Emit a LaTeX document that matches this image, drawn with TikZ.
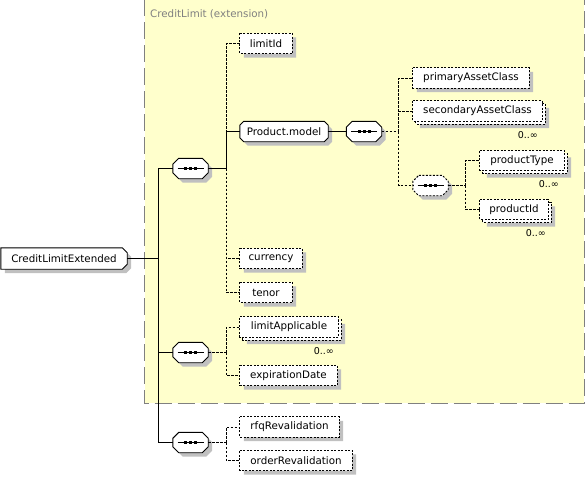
\documentclass[tikz,border=0pt]{standalone}
\usepackage{fontspec}
\setmainfont{DejaVu Sans}
\usetikzlibrary{calc}
\definecolor{extbg}{HTML}{FFFFCC}
\definecolor{extbd}{HTML}{808080}
\definecolor{shd}{HTML}{C0C0C0}
\pgfdeclarelayer{back}
\pgfdeclarelayer{bg}
\pgfsetlayers{back,bg,main}
\tikzset{
  x=1pt,y=-1pt,
  every node/.style={font=\fontsize{10.3}{12}\selectfont,inner sep=0pt},
  elem/.style={minimum height=20pt},
  comp/.style={minimum width=35pt,minimum height=20pt},
  card/.style={anchor=east,font=\fontsize{9.5}{11}\selectfont},
  lbl/.style={anchor=west,text=extbd},
  conn/.style={line width=0.9pt},
  oconn/.style={line width=0.9pt,dash pattern=on 2.5pt off 1.5pt},
  outl/.style={draw=black,fill=white,line width=0.9pt},
  optl/.style={dash pattern=on 2pt off 1.5pt},
  shadowfill/.style={fill=shd},
}
% #1 name, #2 left chamfer, #3 right chamfer, #4 offset
\newcommand\boxpath[4]{%
 ([shift={(#2+#4,#4)}]#1.north west) -- ([shift={(-#3+#4,#4)}]#1.north east) --
 ([shift={(#4,#3+#4)}]#1.north east) -- ([shift={(#4,-#3+#4)}]#1.south east) --
 ([shift={(-#3+#4,#4)}]#1.south east) -- ([shift={(#2+#4,#4)}]#1.south west) --
 ([shift={(#4,-#2+#4)}]#1.south west) -- ([shift={(#4,#2+#4)}]#1.north west) -- cycle}
% single box: name, cl, cr, extra style
\newcommand\solobox[4]{%
 \begin{pgfonlayer}{bg}
 \fill[shadowfill] \boxpath{#1}{#2}{#3}{4};
 \draw[outl,#4] \boxpath{#1}{#2}{#3}{0};
 \end{pgfonlayer}}
% multiple box
\newcommand\multibox[4]{%
 \begin{pgfonlayer}{bg}
 \fill[shadowfill] \boxpath{#1}{#2}{#3}{7};
 \draw[outl,#4] \boxpath{#1}{#2}{#3}{3};
 \draw[outl,#4] \boxpath{#1}{#2}{#3}{0};
 \end{pgfonlayer}}
\newcommand\seqmark[1]{%
  \draw[line width=0.9pt] ([xshift=-13pt]#1.center) -- ([xshift=13pt]#1.center);
  \foreach \dx in {-5,0,5} \fill ([xshift=\dx pt]#1.center) +(-1.5,-1.5) rectangle +(1.5,1.5);}
\begin{document}
\begin{tikzpicture}
\useasboundingbox (0,0) rectangle (585,477);
% extension frame
\begin{pgfonlayer}{back}
\draw[fill=extbg,draw=extbd,line width=1pt,dash pattern=on 17pt off 6pt] (144.5,-1) rectangle (584,403);
\end{pgfonlayer}
\node[lbl] (extlbl) at (150,14) {CreditLimit (extension)};
% nodes
\node[elem,minimum width=126pt,minimum height=21pt] (cle) at (64,258.5) {CreditLimitExtended};
\node[comp] (s1) at (190.5,168.5) {};
\node[comp] (s4) at (190.5,352.5) {};
\node[comp] (s5) at (190.5,442.5) {};
\node[elem,minimum width=52pt] (limitId) at (266,43.5) {limitId};
\node[elem,minimum width=88pt] (pm) at (284,131.5) {Product.model};
\node[comp] (s2) at (364,131.5) {};
\node[elem,minimum width=116pt] (pac) at (471,78) {primaryAssetClass};
\node[elem,minimum width=129pt] (sac) at (477.5,111) {secondaryAssetClass};
\node[comp] (s3) at (430.5,185.5) {};
\node[elem,minimum width=84pt] (ptype) at (522,160.5) {productType};
\node[elem,minimum width=68pt] (pid) at (514,209.5) {productId};
\node[elem,minimum width=62pt] (cur) at (271,258.5) {currency};
\node[elem,minimum width=52pt] (tenor) at (266,292.5) {tenor};
\node[elem,minimum width=98pt] (la) at (289,327) {limitApplicable};
\node[elem,minimum width=97pt] (ed) at (288.5,375.5) {expirationDate};
\node[elem,minimum width=99pt] (rfq) at (289.5,427) {rfqRevalidation};
\node[elem,minimum width=112pt] (ord) at (296,460.5) {orderRevalidation};
% shapes
\solobox{cle}{0}{5}{}
\solobox{s1}{6}{6}{}\solobox{s2}{6}{6}{}\solobox{s4}{6}{6}{}\solobox{s5}{6}{6}{}
\solobox{s3}{6}{6}{optl}
\solobox{limitId}{0}{0}{optl}
\solobox{pm}{4}{4}{}
\solobox{pac}{0}{0}{optl}
\multibox{sac}{0}{0}{optl}
\multibox{ptype}{0}{0}{optl}
\multibox{pid}{0}{0}{optl}
\solobox{cur}{0}{0}{optl}
\solobox{tenor}{0}{0}{optl}
\multibox{la}{0}{0}{optl}
\solobox{ed}{0}{0}{optl}
\solobox{rfq}{0}{0}{optl}
\solobox{ord}{0}{0}{optl}
% cardinalities
\node[card] (c1) at (538,135.5) {0..∞};
\node[card] (c2) at (559,184) {0..∞};
\node[card] (c3) at (546,233) {0..∞};
\node[card] (c4) at (334,351) {0..∞};
% compositor marks
\seqmark{s1}\seqmark{s2}\seqmark{s3}\seqmark{s4}\seqmark{s5}
% connectors
\draw[conn] (cle.east) -- ++(31,0) coordinate (b1) |- (s1.west);
\draw[conn] (b1) |- (s4.west);
\draw[conn] (b1) |- (s5.west);
\draw[conn] (s1.east) -- ++(18,0) coordinate (b2);
\draw[oconn] (b2) |- (limitId.west);
\draw[oconn] (b2) |- (cur.west);
\draw[oconn] (b2) |- (tenor.west);
\draw[conn] (b2) |- (pm.west);
\draw[conn] (pm.east) -- (s2.west);
\draw[oconn] (s2.east) -- ++(17,0) coordinate (b3);
\draw[oconn] (b3) |- (pac.west);
\draw[oconn] (b3) |- (sac.west);
\draw[oconn] (b3) |- (s3.west);
\draw[oconn] (s3.east) -- ++(17,0) coordinate (b4);
\draw[oconn] (b4) |- (ptype.west);
\draw[oconn] (b4) |- (pid.west);
\draw[oconn] (s4.east) -- ++(18,0) coordinate (b5);
\draw[oconn] (b5) |- (la.west);
\draw[oconn] (b5) |- (ed.west);
\draw[oconn] (s5.east) -- ++(18,0) coordinate (b6);
\draw[oconn] (b6) |- (rfq.west);
\draw[oconn] (b6) |- (ord.west);
\end{tikzpicture}
\end{document}
